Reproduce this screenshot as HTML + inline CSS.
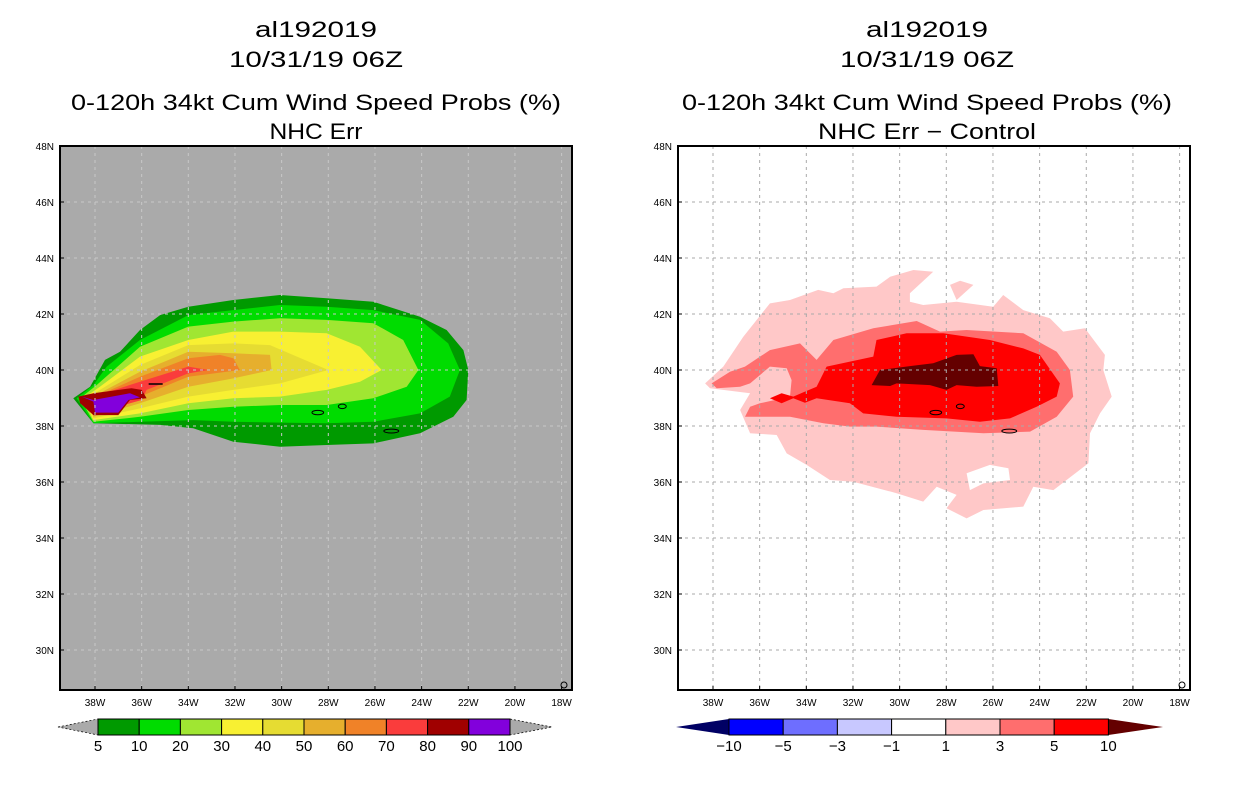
<!DOCTYPE html>
<html><head><meta charset="utf-8"><style>
body{margin:0;background:#fff;}
svg text{font-family:"Liberation Sans",sans-serif;}
</style></head><body>
<svg id="root" width="1236" height="800" xmlns="http://www.w3.org/2000/svg"></svg>
<script>
const lonTicks=[38,36,34,32,30,28,26,24,22,20,18];
const latTicks=[48,46,44,42,40,38,36,34,32,30];
// left panel: probability contour polygons (lonW, lat)
const probLevels=[5,10,20,30,40,50,60,70,80,90];
const probColors=["#009a00","#00dc00","#a0e632","#f8f032","#e6dc32","#e6af2d","#f08228","#fa3c3c","#a00000","#8200dc"];
const prob5=[[38.93,38.99],[38.21,39.40],[37.57,40.36],[36.93,40.65],[36.07,41.43],[35.21,41.96],[34.0,42.26],[32.07,42.5],[30.07,42.68],[28.07,42.56],[26.07,42.44],[24.07,41.9],[22.93,41.43],[22.21,40.71],[22.0,40.0],[22.07,38.93],[22.64,38.33],[24.07,37.74],[26.07,37.38],[28.07,37.32],[30.07,37.26],[32.07,37.44],[33.79,37.92],[35.21,38.04],[38.07,38.1]];
const prob10=[[38.79,38.99],[38.07,39.46],[37.5,40.12],[36.07,41.07],[34.0,41.96],[32.07,42.14],[30.07,42.32],[28.07,42.26],[26.07,42.14],[24.07,41.79],[22.86,40.95],[22.36,40.0],[22.79,39.05],[24.07,38.45],[26.07,38.15],[28.07,38.1],[30.07,38.12],[32.07,38.15],[33.79,38.21],[36.07,38.15],[38.07,38.1]];
const prob20=[[38.64,38.99],[37.93,39.46],[36.07,40.83],[34.0,41.55],[32.07,41.73],[30.07,41.85],[28.07,41.79],[26.07,41.67],[24.79,41.07],[24.14,40.0],[24.64,39.4],[26.07,38.99],[28.07,38.75],[30.07,38.75],[32.07,38.69],[34.0,38.57],[36.07,38.33],[38.07,38.15]];
const prob30=[[38.5,38.99],[37.79,39.4],[36.07,40.48],[34.0,41.07],[32.07,41.37],[30.07,41.37],[28.07,41.31],[26.64,40.83],[25.71,40.0],[26.64,39.58],[28.07,39.29],[30.07,39.05],[32.07,38.99],[34.0,38.81],[36.07,38.45],[38.07,38.21]];
const prob40=[[38.36,38.99],[36.07,40.18],[34.0,40.89],[32.07,40.95],[30.5,40.89],[28.0,40.0],[30.07,39.52],[32.07,39.29],[34.0,39.05],[36.07,38.63],[38.07,38.27]];
const prob50=[[38.21,38.99],[36.07,39.94],[34.0,40.65],[32.07,40.6],[30.5,40.54],[30.43,40.0],[32.07,39.7],[34.0,39.4],[36.07,38.81],[38.07,38.33]];
const prob60=[[38.14,38.99],[36.07,39.76],[34.0,40.42],[32.64,40.54],[32.07,40.42],[31.79,40.0],[34.0,39.76],[36.07,39.05],[38.07,38.39]];
const prob70=[[38.07,39.05],[36.07,39.58],[34.0,40.12],[33.14,40.0],[34.0,39.88],[35.79,39.29],[36.0,38.93],[38.07,38.45]];
const prob80=[[38.71,39.05],[38.07,39.17],[36.43,39.35],[36.0,39.29],[35.79,38.99],[36.5,38.93],[37.0,38.39],[38.07,38.39],[38.64,38.81]];
const prob90=[[38.57,39.05],[38.07,38.93],[36.5,39.17],[36.07,39.02],[36.57,38.93],[37.0,38.48],[38.0,38.48],[38.07,38.87]];
const probPolys=[prob5,prob10,prob20,prob30,prob40,prob50,prob60,prob70,prob80,prob90];
const probBarLabels=["5","10","20","30","40","50","60","70","80","90","100"];
// right panel: difference contours (lonW, lat)
const diffPink=[[38.34,39.52],[37.56,40.12],[36.7,41.19],[35.56,42.38],[34.7,42.5],[33.49,42.86],[32.84,42.74],[32.41,42.92],[30.99,42.98],[30.41,43.33],[29.41,43.57],[28.56,43.51],[29.56,42.74],[29.56,42.44],[28.99,42.32],[27.56,42.44],[25.99,42.26],[25.56,42.68],[24.7,42.14],[23.56,41.85],[22.99,41.37],[22.06,41.49],[21.2,40.54],[21.27,40.0],[20.91,39.05],[21.41,38.45],[21.84,37.74],[21.91,36.67],[23.41,35.71],[24.27,35.83],[24.7,35.12],[26.41,35.0],[27.13,34.7],[27.99,35.06],[27.56,35.54],[28.41,35.83],[28.99,35.3],[30.13,35.6],[31.99,36.01],[32.99,36.07],[33.99,36.61],[34.84,37.02],[35.27,37.68],[36.41,37.74],[36.84,38.57],[36.41,39.17],[38.13,39.35]];
const diffPinkIsland=[[27.84,43.04],[27.41,43.19],[26.84,43.04],[27.56,42.5]];
const diffHole=[[27.13,36.31],[26.13,36.61],[25.34,36.49],[25.27,36.07],[26.41,35.95],[26.99,35.71]];
const diffMid=[[38.06,39.52],[37.27,39.94],[36.63,40.12],[35.56,40.71],[34.27,40.95],[33.56,40.36],[32.84,41.07],[31.13,41.49],[29.27,41.75],[28.27,41.37],[27.13,41.43],[24.7,41.31],[23.27,40.65],[22.7,40.0],[22.56,39.05],[23.27,38.33],[24.41,37.8],[26.41,37.74],[28.99,37.86],[30.99,37.98],[32.13,37.98],[33.27,38.1],[34.7,38.33],[36.63,38.33],[36.41,38.69],[35.99,38.81],[34.7,39.05],[34.63,39.64],[34.84,40.06],[35.56,40.12],[36.41,39.52],[36.84,39.4],[37.84,39.35]];
const diffRed=[[35.56,38.99],[35.06,39.17],[34.56,39.05],[34.06,39.23],[33.56,39.4],[33.13,40.12],[31.13,40.48],[30.99,41.07],[29.7,41.31],[28.13,41.31],[26.13,41.07],[24.7,40.77],[23.99,40.54],[23.13,39.52],[23.27,39.05],[24.13,38.69],[25.27,38.27],[26.56,38.15],[27.99,38.27],[30.13,38.33],[31.56,38.45],[32.13,38.81],[33.56,38.99],[34.06,38.83],[34.56,38.99],[35.06,38.81]];
const diffDark=[[31.2,39.46],[30.84,40.0],[29.56,40.14],[28.56,40.24],[27.56,40.54],[26.84,40.56],[26.56,40.14],[25.84,40.06],[25.77,39.43],[26.7,39.4],[27.56,39.46],[27.99,39.29],[28.7,39.46],[30.13,39.52],[30.41,39.43]];
const diffBarLabels=["-10","-5","-3","-1","1","3","5","10"];
const diffColors=["#0000ff","#6e6eff","#c8c8ff","#ffffff","#ffc8c8","#ff6e6e","#ff0000"];
const islands=[[28.45,38.48,0.25,0.08],[27.4,38.7,0.17,0.08],[25.3,37.82,0.32,0.07]];

const NS="http://www.w3.org/2000/svg";
const root=document.getElementById('root');
function mk(tag,attrs,parent){const e=document.createElementNS(NS,tag);for(const k in attrs)e.setAttribute(k,attrs[k]);(parent||root).appendChild(e);return e;}
function txt(s,x,y,size,anchor,parent){const t=mk('text',{x:x,y:y,'font-size':size,'text-anchor':anchor||'middle',fill:'#000'},parent);t.textContent=s;return t;}

function panel(x0,name,isProb){
  const W=512,H=544,y0=146;
  const xs=lon=>x0+35+(38-lon)*23.33;
  const ys=lat=>370-(lat-40)*28;
  const g=mk('g',{});
  
  
  const cid='clip'+x0;
  const cp=mk('clipPath',{id:cid},g);mk('rect',{x:x0,y:y0,width:W,height:H},cp);
  const bg=mk('rect',{x:x0,y:y0,width:W,height:H,fill:isProb?'#aaaaaa':'#ffffff'},g);
  
  
  const fg=mk('g',{'clip-path':'url(#'+cid+')'},g);
  const poly=pts=>pts.map((p,i)=>(i?'L':'M')+xs(p[0]).toFixed(1)+' '+ys(p[1]).toFixed(1)).join(' ')+'Z';
  if(isProb){
    probPolys.forEach((pts,i)=>{
      const p=mk('path',{d:poly(pts),fill:probColors[i]},fg);
      
      
    });
    const dash=mk('line',{x1:xs(35.7),x2:xs(35.1),y1:ys(39.5),y2:ys(39.5),stroke:'#000','stroke-width':1.5},fg);
    
    
  } else {
    const layers=[[diffPink,'#ffc8c8','contour-1'],[diffPinkIsland,'#ffc8c8','contour-1-island'],[diffHole,'#ffffff','contour-1-hole'],[diffMid,'#ff6e6e','contour-3'],[diffRed,'#ff0000','contour-5'],[diffDark,'#640000','contour-10']];
    layers.forEach(l=>{const p=mk('path',{d:poly(l[0]),fill:l[1]},fg);
      
      });
  }
  lonTicks.forEach(l=>{const ln=mk('line',{x1:xs(l),x2:xs(l),y1:y0,y2:y0+H,stroke:isProb?'#c8c8c8':'#aaaaaa','stroke-dasharray':'3,4'},fg);
    
    });
  latTicks.forEach(l=>{const ln=mk('line',{x1:x0,x2:x0+W,y1:ys(l),y2:ys(l),stroke:isProb?'#c8c8c8':'#aaaaaa','stroke-dasharray':'3,4'},fg);
    
    });
  islands.forEach(is=>{const e=mk('ellipse',{cx:xs(is[0]),cy:ys(is[1]),rx:is[2]*23.33,ry:is[3]*28,fill:'none',stroke:'#000','stroke-width':1},fg);
    
    });
  mk('circle',{cx:x0+W-8,cy:y0+H-5,r:3,fill:'none',stroke:'#000'},fg);
  const fr=mk('rect',{x:x0,y:y0,width:W,height:H,fill:'none',stroke:'#000','stroke-width':2},g);
  
  
  lonTicks.forEach(l=>{mk('line',{x1:xs(l),x2:xs(l),y1:y0+H,y2:y0+H-4,stroke:'#000'},g);
    const t=txt(l+'W',xs(l),y0+H+16,10,'middle',g);
    
    });
  latTicks.forEach(l=>{mk('line',{x1:x0,x2:x0+4,y1:ys(l),y2:ys(l),stroke:'#000'},g);
    const t=txt(l+'N',x0-6,ys(l)+4,10,'end',g);
    
    });
}
panel(60,'left-map-panel',true);
panel(678,'right-map-panel',false);

function titles(cx,line4,len4){
  const a=[['al192019',37,'title-storm-id',122],['10/31/19 06Z',67,'title-date',174],['0-120h 34kt Cum Wind Speed Probs (%)',110,'title-product',490],[line4,139,'subtitle',len4]];
  a.forEach(r=>{const t=txt(r[0],cx,r[1],22,'middle');
    
    
    t.setAttribute('textLength',r[3]);
    t.setAttribute('lengthAdjust','spacingAndGlyphs');});
}
titles(316,'NHC Err',93);
titles(927,'NHC Err \u2212 Control',218);

(function(){
  const x0=98,seg=41.2,y=719,h=16;
  const g=mk('g',{});
  
  
  mk('polygon',{points:`58,${y+h/2} ${x0},${y} ${x0},${y+h}`,fill:'#aaaaaa',stroke:'#000','stroke-dasharray':'2,2','stroke-width':0.7},g);
  const xe=x0+seg*probColors.length;
  mk('polygon',{points:`${xe},${y} 552,${y+h/2} ${xe},${y+h}`,fill:'#aaaaaa',stroke:'#000','stroke-dasharray':'2,2','stroke-width':0.7},g);
  probColors.forEach((c,i)=>{mk('rect',{x:x0+i*seg,y:y,width:seg,height:h,fill:c,stroke:'#000','stroke-width':1},g);});
  probBarLabels.forEach((s,i)=>{const t=txt(s,x0+i*seg,751,15,'middle',g);
    
    });
})();
(function(){
  const x0=729,seg=54.2,y=719,h=16;
  const g=mk('g',{});
  
  
  mk('polygon',{points:`676,${y+h/2} ${x0},${y} ${x0},${y+h}`,fill:'#000064'},g);
  const xe=x0+seg*diffColors.length;
  mk('polygon',{points:`${xe},${y} 1163,${y+h/2} ${xe},${y+h}`,fill:'#640000'},g);
  diffColors.forEach((c,i)=>{mk('rect',{x:x0+i*seg,y:y,width:seg,height:h,fill:c,stroke:'#000','stroke-width':1},g);});
  diffBarLabels.forEach((s,i)=>{const t=txt(s.replace('-','\u2212'),x0+i*seg,751,15,'middle',g);
    
    });
})();
</script>
</body></html>
